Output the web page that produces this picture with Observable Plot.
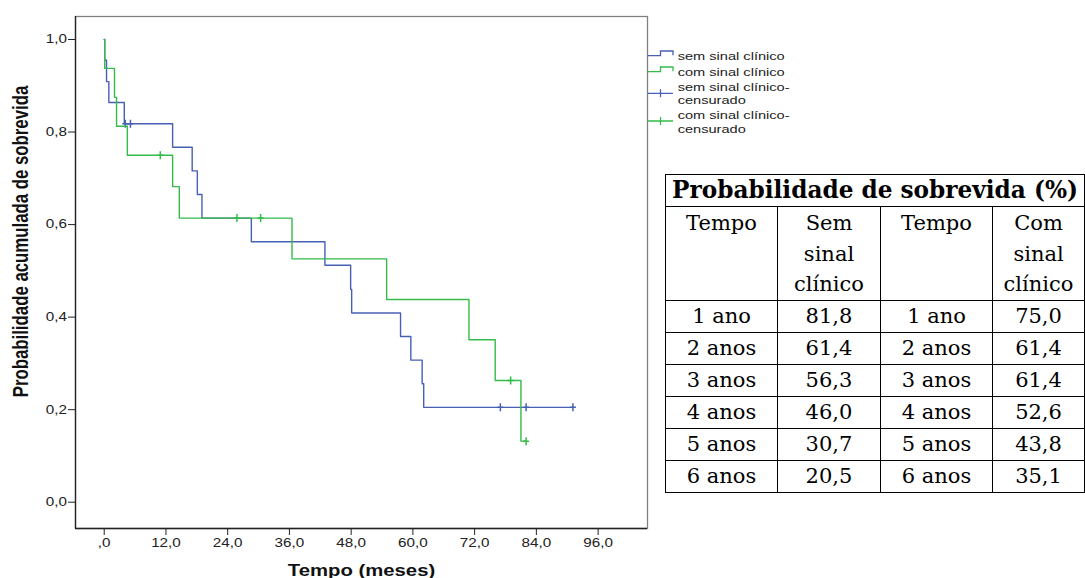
<!DOCTYPE html>
<html>
<head>
<meta charset="utf-8">
<script src="https://cdn.jsdelivr.net/npm/d3@7"></script>
<script src="https://cdn.jsdelivr.net/npm/@observablehq/plot@0.6"></script>
<style>
  html, body { margin: 0; padding: 0; background: #fff; }
  #wrap { position: relative; width: 1085px; height: 578px; overflow: hidden; background: #fff; }
  #chart { position: absolute; left: 0; top: 0; }
  #legend { position: absolute; left: 0; top: 0; }
  #tbl { position: absolute; left: 665px; top: 174px; border-collapse: collapse; table-layout: fixed;
         font-family: "DejaVu Serif", serif; font-size: 21px; color: #000; }
  #tbl td { border: 1.5px solid #000; padding: 0; text-align: center; white-space: nowrap; }
  #tbl td.title { font-weight: bold; height: 30px; line-height: 30px; }
  #tbl td.head { vertical-align: top; line-height: 30.5px; padding-top: 1px; height: 92px; }
  #tbl td.body { height: 31px; line-height: 31px; }
</style>
</head>
<body>
<div id="wrap">
  <div id="chart"></div>
  <svg id="legend" width="1085" height="578"></svg>
  <table id="tbl"></table>
</div>
<script>
// ---------- data ----------
// Kaplan-Meier step points, "sem sinal clínico" (last point = end of follow-up)
const semTime = [0, 0.1, 0.45, 0.9, 3.9, 13.3, 17.1, 18.1, 19.0, 28.6, 42.9, 47.9, 48.1, 57.6, 59.6, 61.8, 62.1, 91.1];
const semSurv = [1, 0.955, 0.909, 0.864, 0.818, 0.767, 0.716, 0.665, 0.614, 0.563, 0.512, 0.460, 0.409, 0.358, 0.307, 0.256, 0.205, 0.205];
const semCensTime = [4.1, 5.1, 77.0, 82.0, 91.1];
const semCensSurv = [0.818, 0.818, 0.205, 0.205, 0.205];

// "com sinal clínico"
const comTime = [0, 0.1, 2.0, 2.4, 4.5, 13.3, 14.6, 36.5, 54.9, 70.9, 76.0, 81.0, 82.0];
const comSurv = [1, 0.9375, 0.875, 0.8125, 0.75, 0.682, 0.614, 0.526, 0.438, 0.351, 0.263, 0.132, 0.132];
const comCensTime = [10.9, 25.8, 30.4, 79.0, 82.0];
const comCensSurv = [0.75, 0.614, 0.614, 0.263, 0.132];

const xTickValues = [0, 12, 24, 36, 48, 60, 72, 84, 96];
const xTickLabels = [",0", "12,0", "24,0", "36,0", "48,0", "60,0", "72,0", "84,0", "96,0"];
const yTickValues = [0, 0.2, 0.4, 0.6, 0.8, 1.0];
const yTickLabels = ["0,0", "0,2", "0,4", "0,6", "0,8", "1,0"];

const xTitle = "Tempo (meses)";
const yTitle = "Probabilidade acumulada de sobrevida";

const legendLabels = [["sem sinal clínico"], ["com sinal clínico"], ["sem sinal clínico-", "censurado"], ["com sinal clínico-", "censurado"]];
const legendKinds = ["step", "step", "censor", "censor"];

const tableTitle = "Probabilidade de sobrevida (%)";
const tableHeaders = [["Tempo"], ["Sem", "sinal", "clínico"], ["Tempo"], ["Com", "sinal", "clínico"]];
const tableTimes = ["1 ano", "2 anos", "3 anos", "4 anos", "5 anos", "6 anos"];
const tableSem = [81.8, 61.4, 56.3, 46.0, 30.7, 20.5];
const tableCom = [75.0, 61.4, 61.4, 52.6, 43.8, 35.1];

// ---------- styling ----------
const semColor = "#4860b4";
const comColor = "#35bb4a";
const colors = [semColor, comColor, semColor, comColor];
const STRETCH = 1.27;
const SANS = "'Liberation Sans', Arial, sans-serif";

const semLine = semTime.map((t, i) => ({t, s: semSurv[i]}));
const comLine = comTime.map((t, i) => ({t, s: comSurv[i]}));
const semCens = semCensTime.map((t, i) => ({t, s: semCensSurv[i]}));
const comCens = comCensTime.map((t, i) => ({t, s: comCensSurv[i]}));

// censor marker: vertical tick with short horizontal bar
const censorSymbol = {
  draw(ctx, size) {
    const r = Math.sqrt(size / Math.PI);
    ctx.moveTo(0, -r); ctx.lineTo(0, r);
    ctx.moveTo(-r * 0.75, 0); ctx.lineTo(r * 0.75, 0);
  }
};

const xDomain = [-5.58, 105.6];
const yDomain = [-0.0568, 1.0497];

const chart = Plot.plot({
  width: 650,
  height: 578,
  marginLeft: 75,
  marginRight: 3,
  marginTop: 16,
  marginBottom: 50,
  x: {domain: xDomain},
  y: {domain: yDomain},
  style: {fontFamily: SANS, fontSize: "12px", color: "#222", background: "transparent", overflow: "visible"},
  marks: [
    Plot.frame({stroke: "#808080", strokeWidth: 1.3}),
    Plot.ruleX([xDomain[0]], {stroke: "#222", strokeWidth: 1.3}),
    Plot.ruleY([yDomain[0]], {stroke: "#222", strokeWidth: 1.3}),
    Plot.axisX({ticks: xTickValues, tickFormat: d => xTickLabels[xTickValues.indexOf(d)], tickSize: 7, tickPadding: 2.5, label: null, stroke: "#222"}),
    Plot.axisY({ticks: yTickValues, tickFormat: d => yTickLabels[yTickValues.indexOf(d)], tickSize: 7, tickPadding: 1.5, label: null, stroke: "#222"}),
    Plot.line(semLine, {x: "t", y: "s", curve: "step-after", stroke: semColor, strokeWidth: 1.4}),
    Plot.dot(semCens, {x: "t", y: "s", symbol: censorSymbol, r: 4, stroke: semColor, fill: "none", strokeWidth: 1.5}),
    Plot.line(comLine, {x: "t", y: "s", curve: "step-after", stroke: comColor, strokeWidth: 1.4}),
    Plot.dot(comCens, {x: "t", y: "s", symbol: censorSymbol, r: 4, stroke: comColor, fill: "none", strokeWidth: 1.5}),
    Plot.text([xTitle], {text: d => d, frameAnchor: "bottom", textAnchor: "middle", dy: 47, lineAnchor: "bottom", fontWeight: "bold", fontSize: 16, fill: "#111", ariaLabel: "x-title"}),
    Plot.text([yTitle], {text: d => d, frameAnchor: "left", textAnchor: "middle", rotate: -90, dx: -63, dy: -31, lineAnchor: "top", fontWeight: "bold", fontSize: 16.8, fill: "#111", ariaLabel: "y-title"})
  ]
});
document.getElementById("chart").appendChild(chart);

// horizontal stretch of the SPSS text (image was widened)
d3.select(chart).selectAll("text").each(function () {
  const t = this.getAttribute("transform") || "";
  const isRot = /rotate\(/.test(t);
  this.setAttribute("transform", t + (isRot ? ` scale(1,${STRETCH})` : ` scale(${STRETCH},1)`));
});

// ---------- legend ----------
const lg = d3.select("#legend");
const iconX0 = 648, iconXm = 660.5, iconX1 = 673, textX = 677.7;
const iconY = [55.7, 71.7, 93.3, 121];
const textY = [59.6, 75.6, 90.6, 119.2];
legendLabels.forEach((lines, i) => {
  const y = iconY[i];
  if (legendKinds[i] === "step") {
    lg.append("path")
      .attr("d", `M${iconX0},${y}H${iconXm}V${y - 4.7}H${iconX1}V${y - 0.5}`)
      .attr("fill", "none").attr("stroke", colors[i]).attr("stroke-width", 1.3);
  } else {
    lg.append("path")
      .attr("d", `M${iconX0},${y}H${iconX1}M${iconXm},${y - 4}V${y + 4}`)
      .attr("fill", "none").attr("stroke", colors[i]).attr("stroke-width", 1.3);
  }
  lines.forEach((s, j) => {
    lg.append("text")
      .attr("transform", `translate(${textX},${textY[i] + j * 13.5}) scale(${STRETCH},1)`)
      .attr("font-family", SANS).attr("font-size", 11.5).attr("fill", "#222")
      .text(s);
  });
});

// ---------- table ----------
const fmt = v => v.toFixed(1).replace(".", ",");
const tbl = d3.select("#tbl");
const cg = tbl.append("colgroup");
[112, 103, 112, 92].forEach(w => cg.append("col").style("width", w + "px"));
tbl.append("tr").append("td").attr("colspan", 4).attr("class", "title").text(tableTitle);
const hr = tbl.append("tr");
tableHeaders.forEach(h => hr.append("td").attr("class", "head").html(h.join("<br>")));
tableTimes.forEach((t, i) => {
  const r = tbl.append("tr");
  r.append("td").attr("class", "body").text(t);
  r.append("td").attr("class", "body").text(fmt(tableSem[i]));
  r.append("td").attr("class", "body").text(t);
  r.append("td").attr("class", "body").text(fmt(tableCom[i]));
});
tbl.style("width", "419px");
// fit title to the table width
const titleCell = tbl.select("td.title").node();
const span = document.createElement("span");
span.textContent = tableTitle;
titleCell.textContent = "";
titleCell.appendChild(span);
let fs = 22;
span.style.fontSize = fs + "px";
const w = span.getBoundingClientRect().width;
fs = fs * 406 / w;
span.style.fontSize = fs.toFixed(2) + "px";
</script>
</body>
</html>
